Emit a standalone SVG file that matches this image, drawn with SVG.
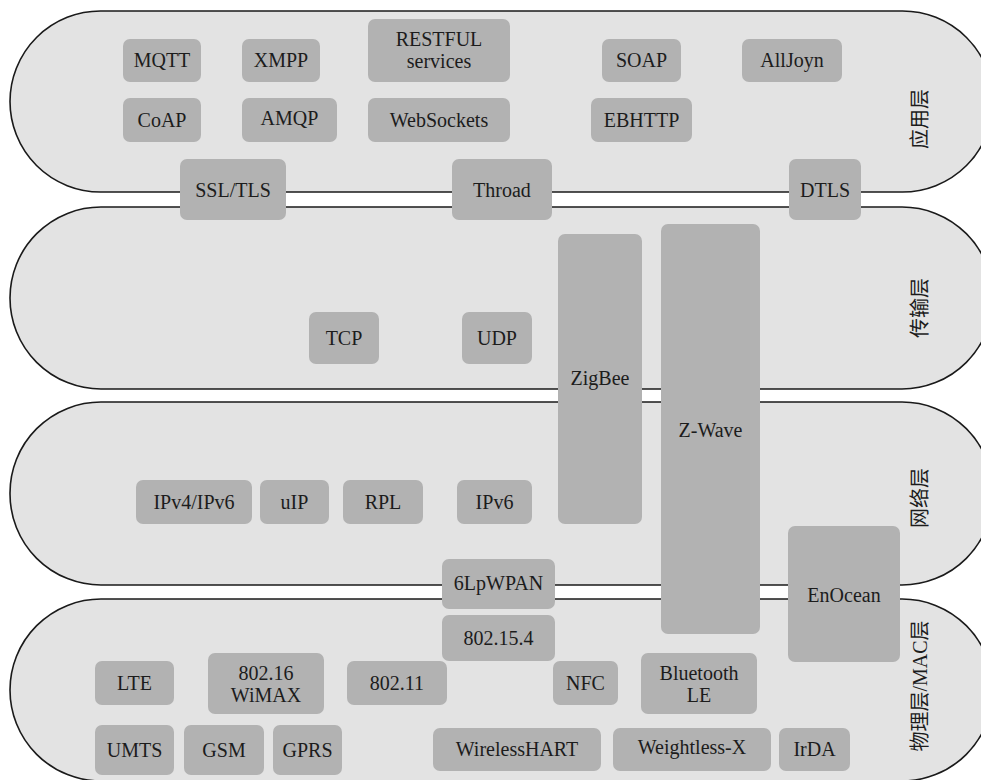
<svg xmlns="http://www.w3.org/2000/svg" width="981" height="780" viewBox="0 0 981 780">
<style>
.layer{fill:#e3e3e3;stroke:#1a1a1a;stroke-width:1.6}
.box{fill:#b2b2b2}
text{font-family:"Liberation Serif","Noto Sans CJK SC",serif;font-size:20px;fill:#1c1c1c;text-anchor:middle}
.lbl{font-size:20px}
</style>
<rect width="981" height="780" fill="#ffffff"/>
<g id="layers">
<g id="layer-app"><rect class="layer" x="10" y="11" width="983" height="181" rx="90.5"/>
<text class="lbl" transform="translate(920,119) rotate(-90)" dominant-baseline="central">应用层</text></g>
<g id="layer-transport"><rect class="layer" x="10" y="207" width="983" height="182" rx="91"/>
<text class="lbl" transform="translate(920,308) rotate(-90)" dominant-baseline="central">传输层</text></g>
<g id="layer-network"><rect class="layer" x="10" y="402" width="983" height="183" rx="91"/>
<text class="lbl" transform="translate(920,498) rotate(-90)" dominant-baseline="central">网络层</text></g>
<g id="layer-phy"><rect class="layer" x="10" y="599" width="983" height="182" rx="91"/>
<text class="lbl" transform="translate(920,686) rotate(-90)" dominant-baseline="central">物理层/MAC层</text></g>
</g>
<g id="n-mqtt"><rect class="box" x="123" y="39" width="78" height="43" rx="7"/><text x="162" y="67">MQTT</text></g>
<g id="n-xmpp"><rect class="box" x="242" y="39" width="78" height="43" rx="7"/><text x="281" y="67">XMPP</text></g>
<g id="n-restful"><rect class="box" x="368" y="19" width="142" height="63" rx="7"/><text x="439" y="46">RESTFUL</text><text x="439" y="68">services</text></g>
<g id="n-soap"><rect class="box" x="602" y="39" width="79" height="43" rx="7"/><text x="641.5" y="67">SOAP</text></g>
<g id="n-alljoyn"><rect class="box" x="742" y="39" width="100" height="43" rx="7"/><text x="792" y="67">AllJoyn</text></g>
<g id="n-coap"><rect class="box" x="123" y="98" width="78" height="44" rx="7"/><text x="162" y="127">CoAP</text></g>
<g id="n-amqp"><rect class="box" x="242" y="98" width="95" height="44" rx="7"/><text x="289.5" y="125">AMQP</text></g>
<g id="n-websockets"><rect class="box" x="368" y="98" width="142" height="44" rx="7"/><text x="439" y="127">WebSockets</text></g>
<g id="n-ebhttp"><rect class="box" x="591" y="98" width="101" height="44" rx="7"/><text x="641.5" y="127">EBHTTP</text></g>
<g id="n-ssltls"><rect class="box" x="180" y="159" width="106" height="61" rx="7"/><text x="233" y="197">SSL/TLS</text></g>
<g id="n-throad"><rect class="box" x="452" y="159" width="100" height="61" rx="7"/><text x="502" y="197">Throad</text></g>
<g id="n-dtls"><rect class="box" x="789" y="159" width="72" height="61" rx="7"/><text x="825" y="197">DTLS</text></g>
<g id="n-tcp"><rect class="box" x="309" y="312" width="70" height="52" rx="7"/><text x="344" y="345">TCP</text></g>
<g id="n-udp"><rect class="box" x="462" y="312" width="70" height="52" rx="7"/><text x="497" y="345">UDP</text></g>
<g id="n-zigbee"><rect class="box" x="558" y="234" width="84" height="290" rx="7"/><text x="600" y="385">ZigBee</text></g>
<g id="n-zwave"><rect class="box" x="661" y="224" width="99" height="410" rx="7"/><text x="710.5" y="437">Z-Wave</text></g>
<g id="n-ipv4ipv6"><rect class="box" x="136" y="480" width="116" height="44" rx="7"/><text x="194" y="509">IPv4/IPv6</text></g>
<g id="n-uip"><rect class="box" x="260" y="480" width="69" height="44" rx="7"/><text x="294.5" y="509">uIP</text></g>
<g id="n-rpl"><rect class="box" x="343" y="480" width="80" height="44" rx="7"/><text x="383" y="509">RPL</text></g>
<g id="n-ipv6"><rect class="box" x="457" y="480" width="75" height="44" rx="7"/><text x="494.5" y="509">IPv6</text></g>
<g id="n-enocean"><rect class="box" x="788" y="526" width="112" height="136" rx="7"/><text x="844" y="602">EnOcean</text></g>
<g id="n-6lpwpan"><rect class="box" x="442" y="559" width="113" height="50" rx="7"/><text x="498.5" y="590">6LpWPAN</text></g>
<g id="n-802154"><rect class="box" x="442" y="615" width="113" height="46" rx="7"/><text x="498.5" y="645">802.15.4</text></g>
<g id="n-lte"><rect class="box" x="95" y="661" width="79" height="44" rx="7"/><text x="134.5" y="690">LTE</text></g>
<g id="n-wimax"><rect class="box" x="208" y="653" width="116" height="61" rx="7"/><text x="266" y="680">802.16</text><text x="266" y="702">WiMAX</text></g>
<g id="n-80211"><rect class="box" x="347" y="661" width="100" height="44" rx="7"/><text x="397" y="690">802.11</text></g>
<g id="n-nfc"><rect class="box" x="553" y="661" width="65" height="44" rx="7"/><text x="585.5" y="690">NFC</text></g>
<g id="n-ble"><rect class="box" x="641" y="653" width="116" height="61" rx="7"/><text x="699" y="680">Bluetooth</text><text x="699" y="702">LE</text></g>
<g id="n-umts"><rect class="box" x="95" y="725" width="79" height="50" rx="7"/><text x="134.5" y="757">UMTS</text></g>
<g id="n-gsm"><rect class="box" x="184" y="725" width="80" height="50" rx="7"/><text x="224" y="757">GSM</text></g>
<g id="n-gprs"><rect class="box" x="273" y="725" width="69" height="50" rx="7"/><text x="307.5" y="757">GPRS</text></g>
<g id="n-wirelesshart"><rect class="box" x="433" y="728" width="168" height="43" rx="7"/><text x="517" y="756">WirelessHART</text></g>
<g id="n-weightless"><rect class="box" x="613" y="728" width="158" height="43" rx="7"/><text x="692" y="754">Weightless-X</text></g>
<g id="n-irda"><rect class="box" x="779" y="728" width="71" height="43" rx="7"/><text x="814.5" y="756">IrDA</text></g>
</svg>
